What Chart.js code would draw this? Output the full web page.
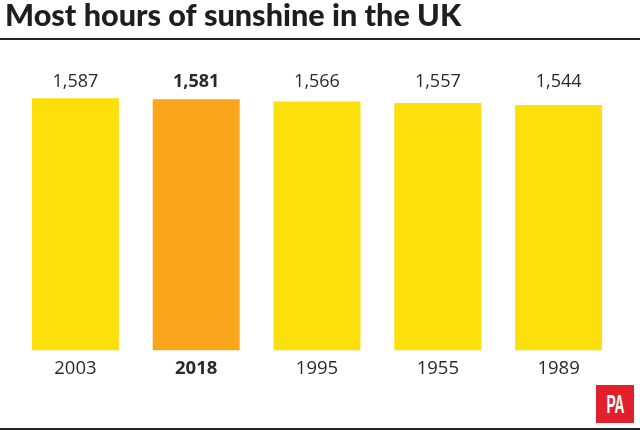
<!DOCTYPE html>
<html>
<head>
<meta charset="utf-8">
<title>Most hours of sunshine in the UK</title>
<script src="https://cdn.jsdelivr.net/npm/chart.js@4"></script>
<style>
    html, body { margin: 0; padding: 0; background: #fff; }
    #wrap { position: relative; width: 640px; height: 430px; overflow: hidden; }
    #sunChart { position: absolute; left: 0; top: 0; }
    .rule { position: absolute; left: 0; width: 640px; background: #222; }
    #ruleTop { top: 38px; height: 1.5px; }
    #ruleBottom { top: 428px; height: 2px; }
    #badge {
        position: absolute; left: 596px; top: 385px; width: 38px; height: 38px;
        background: #e2202c; color: #fff; text-align: center;
        font: 700 25px/38px "Liberation Sans", sans-serif;
    }
    #badge span { display: inline-block; transform: scaleX(0.55); }
</style>
</head>
<body>
<div id="wrap">
    <canvas id="sunChart" width="640" height="430"></canvas>
    <div class="rule" id="ruleTop"></div>
    <div class="rule" id="ruleBottom"></div>
    <div id="badge"><span>PA</span></div>
</div>
<script>
// Chart data
const years = ['2003', '2018', '1995', '1955', '1989'];
const sunshineHours = [1587, 1581, 1566, 1557, 1544];
const highlightYear = '2018';

const fontFamily = '"Open Sans", sans-serif';
const textColor = '#2a2a2a';

// Writes the values in a row above the bars
const valueLabels = {
    id: 'valueLabels',
    afterDatasetsDraw(chart) {
        const ctx = chart.ctx;
        const meta = chart.getDatasetMeta(0);
        ctx.save();
        ctx.textAlign = 'center';
        ctx.textBaseline = 'alphabetic';
        ctx.fillStyle = textColor;
        meta.data.forEach((bar, i) => {
            const weight = years[i] === highlightYear ? '700' : '400';
            ctx.font = `${weight} 18px ${fontFamily}`;
            ctx.fillText(sunshineHours[i].toLocaleString('en-GB'), bar.x, chart.chartArea.top - 9);
        });
        ctx.restore();
    }
};

new Chart(document.getElementById('sunChart'), {
    type: 'bar',
    data: {
        labels: years,
        datasets: [{
            data: sunshineHours,
            backgroundColor: years.map(y => y === highlightYear ? '#f9a61c' : '#fddf0b'),
            categoryPercentage: 1,
            barPercentage: 0.72
        }]
    },
    plugins: [valueLabels],
    options: {
        responsive: false,
        animation: false,
        layout: { padding: { left: 5, right: 21, top: 0, bottom: 0 } },
        plugins: {
            legend: { display: false },
            tooltip: { enabled: false },
            title: {
                display: true,
                text: 'Most hours of sunshine in the UK',
                align: 'start',
                color: '#1e1e1e',
                font: { family: '"Lato", sans-serif', size: 30.6, weight: '900', lineHeight: 1.05 },
                padding: { top: 0, bottom: 64 }
            }
        },
        scales: {
            x: {
                grid: { display: false, drawTicks: false },
                border: { display: false },
                ticks: {
                    color: textColor,
                    padding: 7,
                    font: ctx => ({
                        family: fontFamily,
                        size: 18.5,
                        weight: years[ctx.index] === highlightYear ? '700' : '400'
                    })
                },
                afterFit(axis) { axis.height = 79.5; }
            },
            // hidden axis, only keeps the bars clear of the title's left edge
            y: {
                min: 0,
                max: 1600,
                grid: { display: false },
                border: { display: false },
                ticks: { display: false },
                afterFit(axis) { axis.width = 10; }
            }
        }
    }
});
</script>
</body>
</html>
